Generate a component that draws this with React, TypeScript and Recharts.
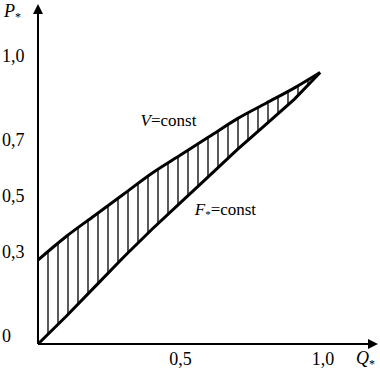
import React from 'react';
import { ComposedChart, Area, Line, XAxis, YAxis, ReferenceDot } from 'recharts';

// Q* values (shared abscissa)
const qValues = [0, 0.1, 0.2, 0.3, 0.4, 0.5, 0.6, 0.7, 0.8, 0.9, 0.99];
// V = const curve (upper)
const upperP = [0.3, 0.385, 0.46, 0.535, 0.61, 0.675, 0.74, 0.805, 0.86, 0.915, 0.97];
// F* = const line (lower)
const lowerP = [0, 0.1, 0.205, 0.31, 0.41, 0.505, 0.6, 0.695, 0.785, 0.875, 0.97];

const xTicks = [0.5, 1.0];
const xTickLabels = ['0,5', '1,0'];
const yTicks = [0, 0.3, 0.5, 0.7, 1.0];
const yTickLabels = ['0', '0,3', '0,5', '0,7', '1,0'];

const data = qValues.map((q, i) => ({ q, upper: upperP[i], lower: lowerP[i], band: [lowerP[i], upperP[i]] }));

const TXT: React.CSSProperties = { fontFamily: "'Liberation Serif', 'DejaVu Serif', serif", fontSize: 18, fill: '#000' };

const YTick = (props: any) => {
  const idx = yTicks.indexOf(props.payload.value);
  return (
    <text x={2} y={props.y - 2} style={TXT} textAnchor="start">
      {yTickLabels[idx]}
    </text>
  );
};

const XTick = (props: any) => {
  const idx = xTicks.indexOf(props.payload.value);
  return (
    <text x={props.x} y={365} style={TXT} textAnchor="middle">
      {xTickLabels[idx]}
    </text>
  );
};

const YLabel = () => (
  <text x={4} y={17} style={TXT}>
    <tspan fontStyle="italic">P</tspan>
    <tspan fontSize={12} dy={4}>*</tspan>
  </text>
);

const XLabel = () => (
  <text x={356} y={364} style={TXT}>
    <tspan fontStyle="italic">Q</tspan>
    <tspan fontSize={12} dy={4}>*</tspan>
  </text>
);

const VLabel = (p: any) => (
  <text x={p.cx} y={p.cy} style={{ ...TXT, fontSize: 17 }}>
    <tspan fontStyle="italic">V</tspan>=const
  </text>
);

const FLabel = (p: any) => (
  <text x={p.cx} y={p.cy} style={{ ...TXT, fontSize: 17 }}>
    <tspan fontStyle="italic">F</tspan>
    <tspan fontSize={11} dy={3}>*</tspan>
    <tspan dy={-3}>=const</tspan>
  </text>
);

export default function App() {
  return (
    <div style={{ position: 'absolute', left: 0, top: 0, width: 380, height: 375, background: '#fff' }}>
      <ComposedChart width={380} height={375} data={data} margin={{ top: 12, right: 10, bottom: 0, left: 0 }}>
        <defs>
          <pattern id="hatch" patternUnits="userSpaceOnUse" width="10" height="10" x="3">
            <line x1="5" y1="0" x2="5" y2="10" stroke="#000" strokeWidth={1.3} />
          </pattern>
          <marker id="arrow" viewBox="0 0 10 10" refX="2" refY="5" markerWidth="5" markerHeight="5" orient="auto-start-reverse" markerUnits="strokeWidth">
            <path d="M0,0 L10,5 L0,10 z" fill="#000" />
          </marker>
        </defs>
        <XAxis
          type="number"
          dataKey="q"
          domain={[0, 1.165]}
          allowDataOverflow
          ticks={xTicks}
          tick={<XTick />}
          tickLine={false}
          height={31}
          axisLine={{ stroke: '#000', strokeWidth: 2, markerEnd: 'url(#arrow)' } as any}
          label={<XLabel />}
        />
        <YAxis
          type="number"
          domain={[0, 1.186]}
          allowDataOverflow
          ticks={yTicks}
          tick={<YTick />}
          tickLine={false}
          width={38}
          axisLine={{ stroke: '#000', strokeWidth: 2, markerStart: 'url(#arrow)' } as any}
          label={<YLabel />}
        />
        <Area
          type="monotone"
          dataKey="band"
          stroke="none"
          fill="url(#hatch)"
          fillOpacity={1}
          isAnimationActive={false}
        />
        <Line type="monotone" dataKey="upper" stroke="#000" strokeWidth={3} dot={false} isAnimationActive={false} />
        <Line type="linear" dataKey="lower" stroke="#000" strokeWidth={3} dot={false} isAnimationActive={false} />
        <ReferenceDot x={0.36} y={0.78} r={0} shape={<VLabel />} />
        <ReferenceDot x={0.55} y={0.46} r={0} shape={<FLabel />} />
      </ComposedChart>
    </div>
  );
}
